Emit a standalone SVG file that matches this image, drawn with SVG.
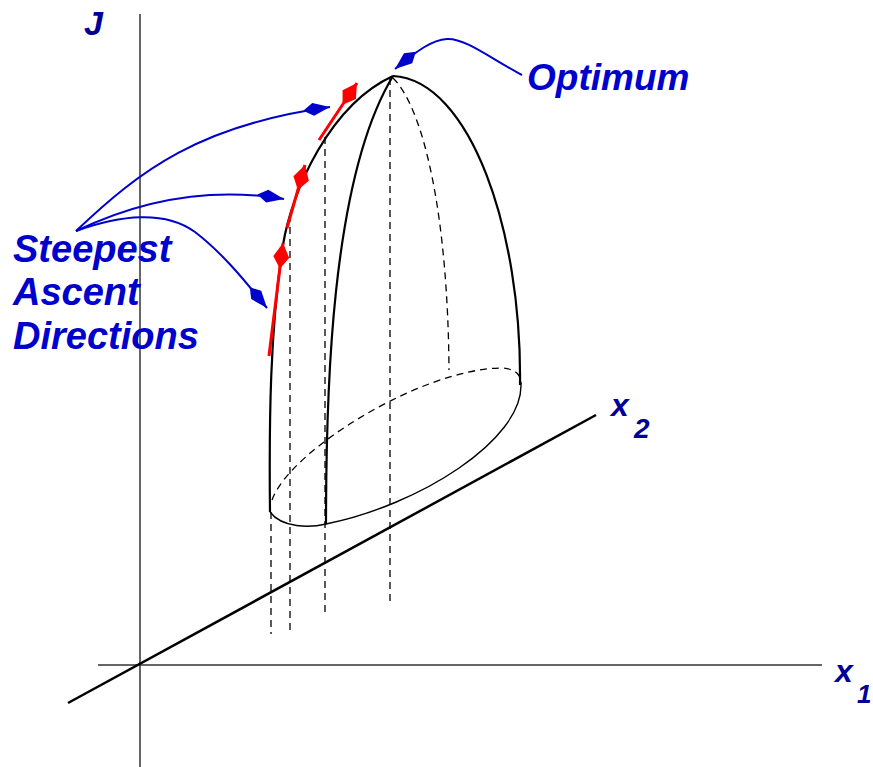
<svg xmlns="http://www.w3.org/2000/svg" width="873" height="767" viewBox="0 0 873 767">
<style>
.ax{stroke:#333;stroke-width:1.5;fill:none}
.solid{stroke:#000;stroke-width:2.2;fill:none}
.thin{stroke:#000;stroke-width:1.4;fill:none}
.dash{stroke:#000;stroke-width:1.3;fill:none;stroke-dasharray:7,5}
.blue{stroke:#0000cc;stroke-width:2;fill:none}
.red{stroke:#ff0000;stroke-width:3;fill:none}
.lbl{font-family:"Liberation Sans",Arial,sans-serif;font-weight:bold;font-style:italic;fill:#0000cc}
.axl{font-family:"Liberation Sans",Arial,sans-serif;font-weight:bold;font-style:italic;fill:#000099}
</style>
<defs>
<marker id="bh" markerUnits="userSpaceOnUse" markerWidth="30" markerHeight="16" viewBox="-28 -8 30 16" refX="0" refY="0" orient="auto">
<path d="M0,0 L-17,-6.5 L-27,0 L-17,6.5 Z" fill="#0000cc"/>
</marker>
<marker id="rh" markerUnits="userSpaceOnUse" markerWidth="30" markerHeight="20" viewBox="-28 -10 30 20" refX="0" refY="0" orient="auto">
<path d="M0,0 L-14,-8 L-26,0 L-14,8 Z" fill="#ff0000"/>
</marker>
</defs>
<g id="axes">
<line class="ax" x1="140" y1="14" x2="140" y2="767"/>
<line class="ax" x1="98" y1="665" x2="822" y2="665"/>
<line x1="68" y1="703" x2="596" y2="415" stroke="#000" stroke-width="2.5"/>
<text class="axl" x="84" y="35" font-size="34">J</text>
<text class="axl" x="611" y="416" font-size="32">x</text>
<text class="axl" x="634" y="438" font-size="28">2</text>
<text class="axl" x="835" y="682" font-size="32">x</text>
<text class="axl" x="857" y="703" font-size="26">1</text>
</g>
<g id="dome">
<path class="solid" d="M270,512 C269,420 270,330 283,245 C292,190 330,105 393,76"/>
<path class="solid" d="M393,76 C470,80 522,230 520,385"/>
<path class="solid" d="M326,524 C326,400 330,180 393,76"/>
<path class="dash" d="M393,78 C425,110 448,220 449,370"/>
<path class="thin" d="M270,512 C282,528 310,528 326,524 C420,505 522,440 521,385"/>
<path class="dash" d="M272,500 C290,450 420,370 500,368 C515,368 522,375 521,385"/>
<line class="dash" x1="390" y1="78" x2="390" y2="603"/>
<line class="dash" x1="271" y1="512" x2="271" y2="634"/>
<line class="dash" x1="290" y1="215" x2="290" y2="630"/>
<line class="dash" x1="325" y1="137" x2="325" y2="617"/>
</g>
<g id="steepest-arrows">
<path class="red" d="M269,356 L283,243" marker-end="url(#rh)"/>
<path class="red" d="M287,228 L305,165" marker-end="url(#rh)"/>
<path class="red" d="M319,140 L357,83" marker-end="url(#rh)"/>
</g>
<g id="connectors">
<path class="blue" d="M522,75 C490,58 465,38 447,39 C432,40 418,50 395,69" marker-end="url(#bh)"/>
<path class="blue" d="M76,231 C140,170 200,125 330,107" marker-end="url(#bh)"/>
<path class="blue" d="M76,231 C130,205 200,185 284,199" marker-end="url(#bh)"/>
<path class="blue" d="M76,231 C120,215 165,210 195,232 C225,255 248,285 267,308" marker-end="url(#bh)"/>
</g>
<g id="labels">
<text class="lbl" x="527" y="90" font-size="37">Optimum</text>
<text class="lbl" x="13" y="262" font-size="38">Steepest</text>
<text class="lbl" x="13" y="305" font-size="38">Ascent</text>
<text class="lbl" x="13" y="349" font-size="38">Directions</text>
</g>
</svg>
